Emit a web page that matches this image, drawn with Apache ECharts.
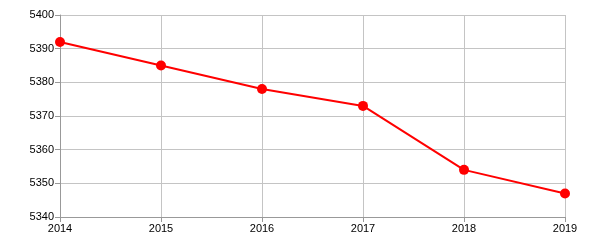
<!DOCTYPE html>
<html><head><meta charset="utf-8">
<script src="https://cdn.jsdelivr.net/npm/echarts@6/dist/echarts.min.js"></script>
<style>html,body{margin:0;padding:0;background:#fff}#c{width:600px;height:250px}</style>
</head><body><div id="c"></div>
<script>
const years = ['2014','2015','2016','2017','2018','2019'];
const values = [5392, 5385, 5378, 5373, 5354, 5347];
const yMin = 5340, yMax = 5400, yStep = 10;

const chart = echarts.init(document.getElementById('c'), null, {renderer:'canvas'});
chart.setOption({
  animation:false,
  grid:{left:60, right:35, top:15, bottom:33, containLabel:false},
  xAxis:{
    type:'category', data:years, boundaryGap:false,
    axisLine:{lineStyle:{color:'#999', width:1}},
    axisTick:{show:true, length:5, alignWithLabel:true, lineStyle:{color:'#999'}},
    axisLabel:{color:'#000', fontFamily:'Liberation Sans, Arial, sans-serif', fontSize:11, margin:6},
    splitLine:{show:true, lineStyle:{color:'#c4c4c4', width:1}}
  },
  yAxis:{
    type:'value', min:yMin, max:yMax, interval:yStep,
    axisLine:{show:true, lineStyle:{color:'#999', width:1}},
    axisTick:{show:true, length:5, lineStyle:{color:'#999'}},
    axisLabel:{color:'#000', fontFamily:'Liberation Sans, Arial, sans-serif', fontSize:11, margin:6,
      formatter: v => String(v)},
    splitLine:{show:true, lineStyle:{color:'#c4c4c4', width:1}}
  },
  series:[{
    type:'line', data:values,
    symbol:'circle', symbolSize:10,
    lineStyle:{color:'#ff0000', width:2},
    itemStyle:{color:'#ff0000'}
  }]
});
</script></body></html>
